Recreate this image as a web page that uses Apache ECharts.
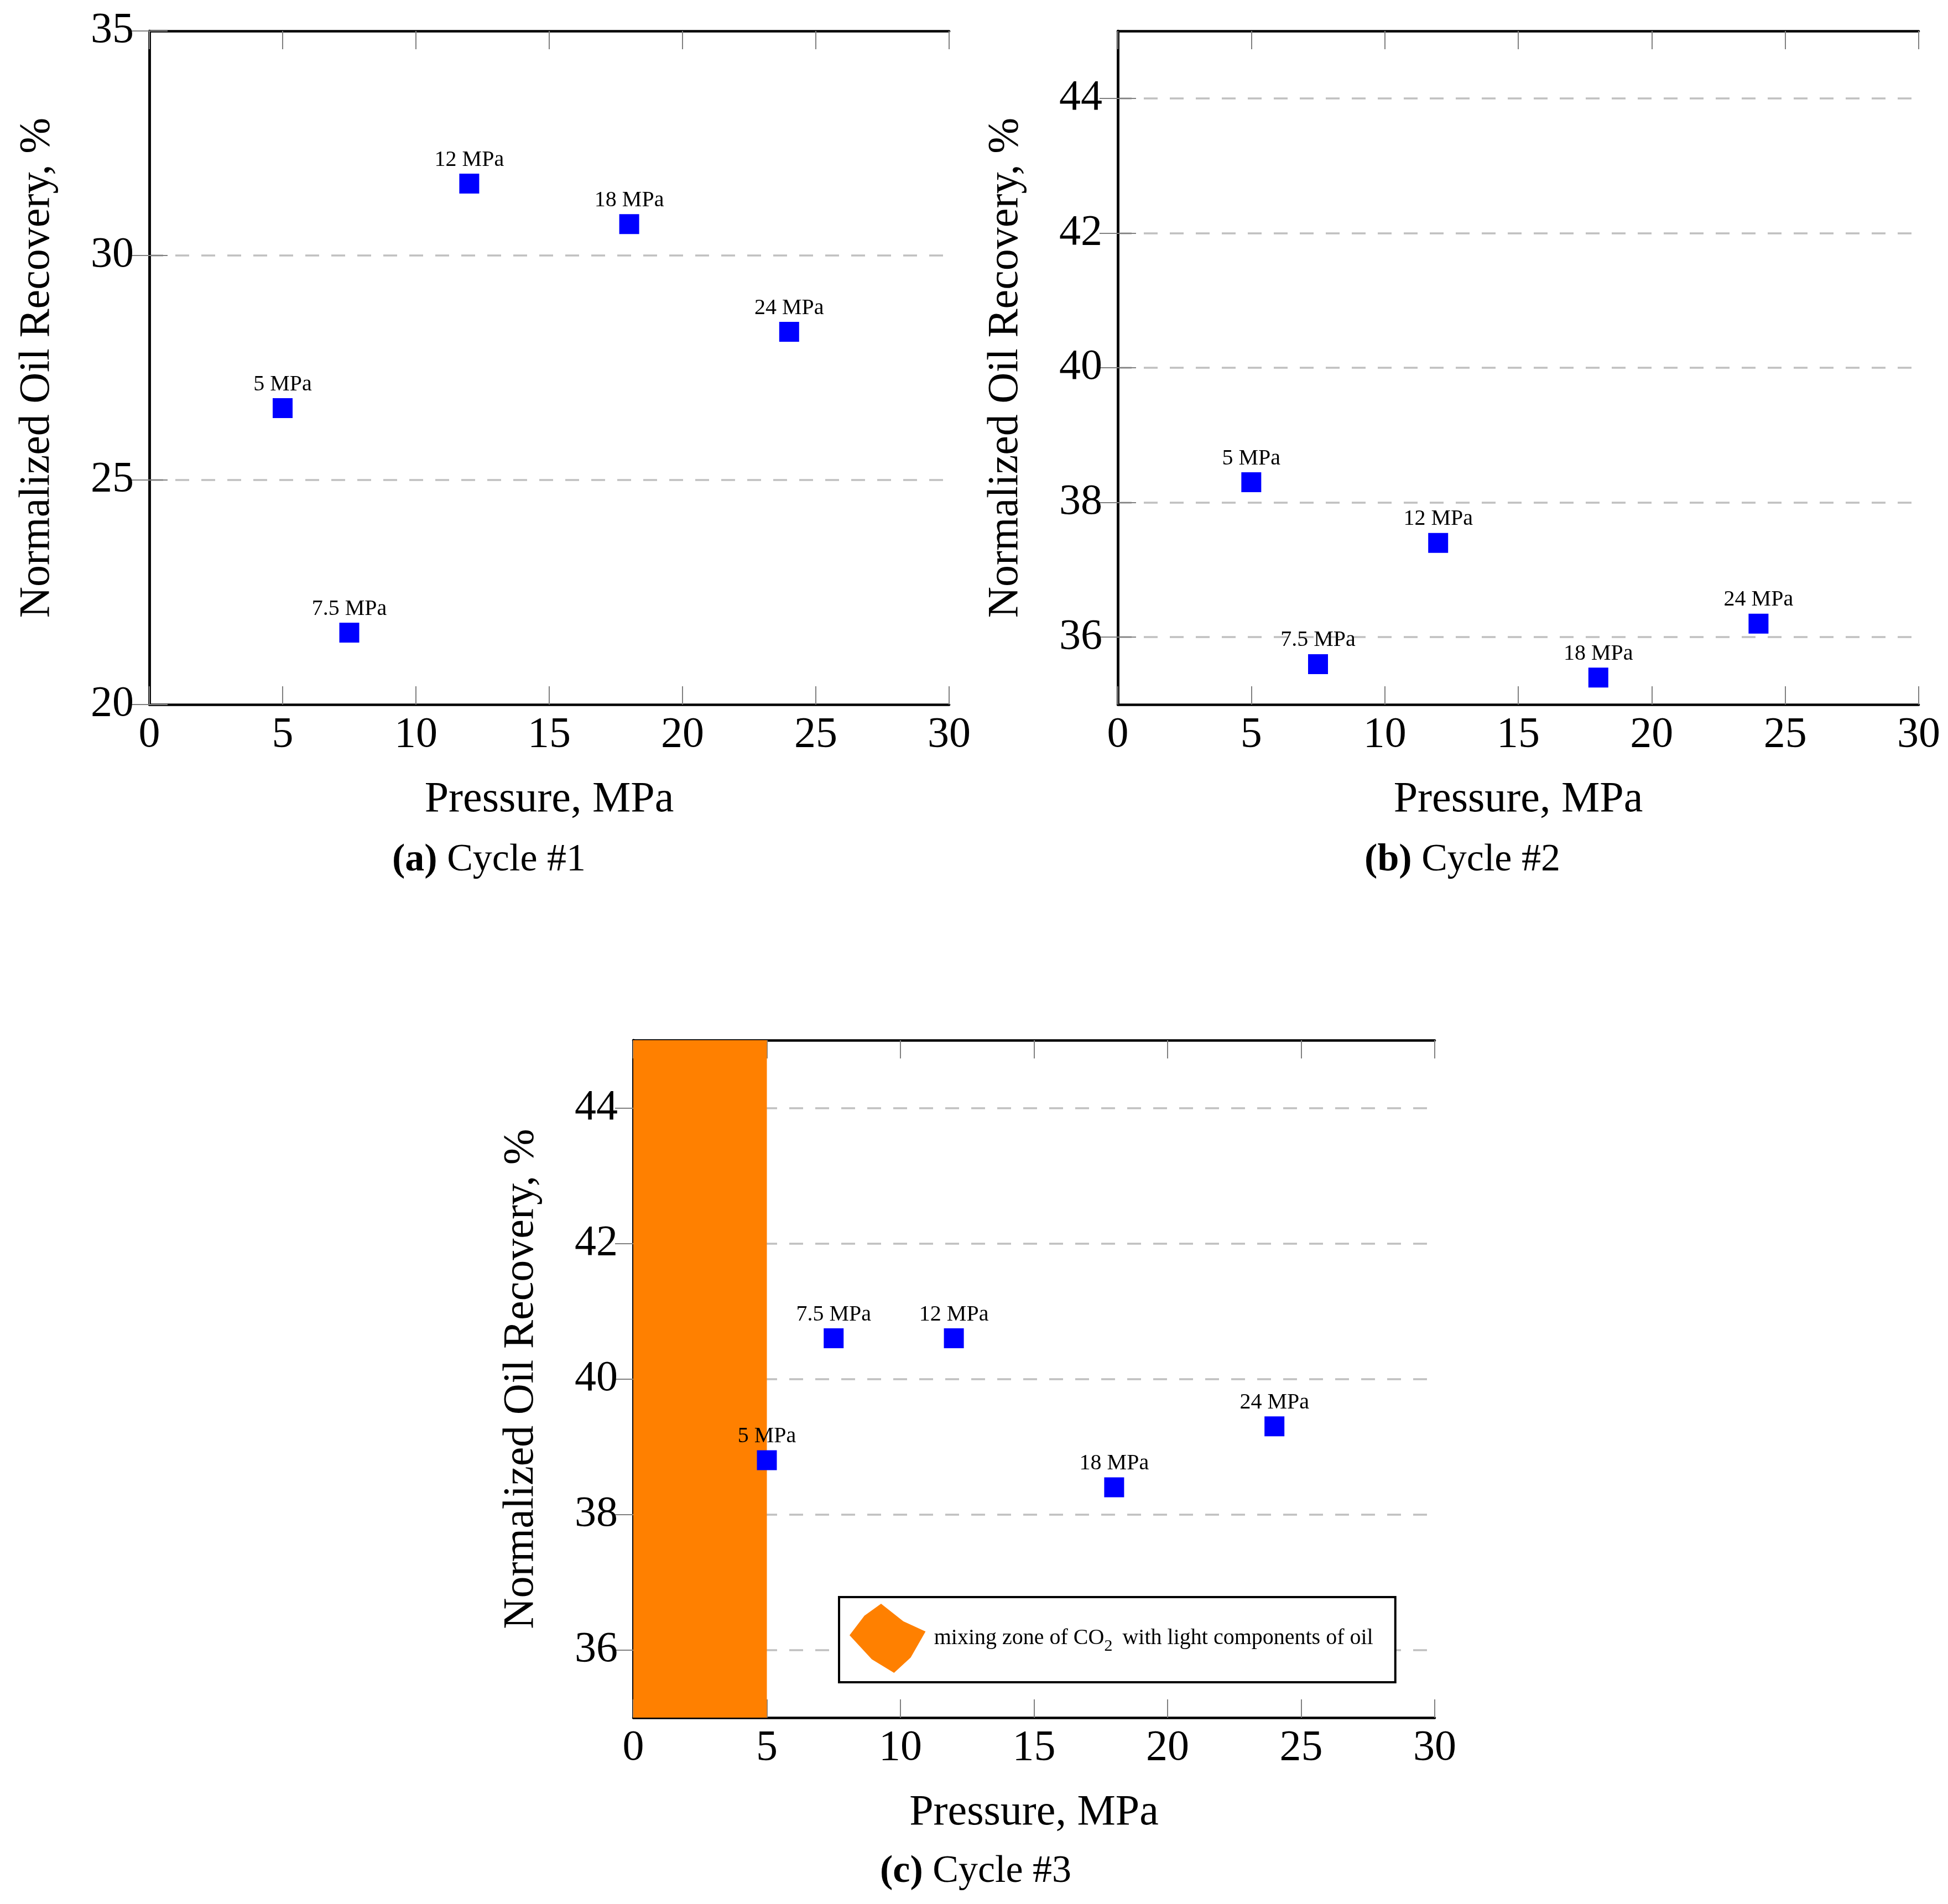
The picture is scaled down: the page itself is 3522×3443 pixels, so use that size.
<!DOCTYPE html>
<html><head><meta charset="utf-8">
<script src="https://cdn.jsdelivr.net/npm/echarts@6/dist/echarts.min.js"></script>
<style>html,body{margin:0;padding:0;background:#fff}#c{width:3522px;height:3443px}</style>
</head><body><div id="c"></div>
<script>
// ---- data ----
const pressures = [5, 7.5, 12, 18, 24];
const pointLabels = ['5 MPa', '7.5 MPa', '12 MPa', '18 MPa', '24 MPa'];
const recoveryCycle1 = [26.6, 21.6, 31.6, 30.7, 28.3];
const recoveryCycle2 = [38.3, 35.6, 37.4, 35.4, 36.2];
const recoveryCycle3 = [38.8, 40.6, 40.6, 38.4, 39.3];
const yTicksCycle23 = [36, 38, 40, 42, 44];
const mixingZone = [0, 5];
const captionTags = ['(a)', '(b)', '(c)'];
const captionTitles = ['Cycle #1', 'Cycle #2', 'Cycle #3'];
const zoneName = 'mixing zone of CO2 with light components of oil';

// ---- styling ----
const FF = "'Liberation Serif', 'DejaVu Serif', serif";
const grids = [
  {left: 270, top: 56, width: 1446, height: 1218},
  {left: 2021, top: 56, width: 1448, height: 1218},
  {left: 1145, top: 1881, width: 1449, height: 1225}
];
const yRanges = [
  {min: 20, max: 35, interval: 5, custom: null},
  {min: 35, max: 45, interval: 1, custom: yTicksCycle23},
  {min: 35, max: 45, interval: 1, custom: yTicksCycle23}
];
const captionPos = [[884, 1556], [2644, 1556], [1764, 3385]];

const tickStyle = {show: true, inside: true, length: 33, lineStyle: {color: '#808080', width: 2}};
const lineStyleAxis = {show: true, lineStyle: {color: '#000', width: 4.5}};

const xAxes = [], yAxes = [];
grids.forEach((g, i) => {
  const xBase = {gridIndex: i, type: 'value', min: 0, max: 30, interval: 5, axisLine: lineStyleAxis, axisTick: tickStyle, splitLine: {show: false}};
  xAxes.push(Object.assign({}, xBase, {
    position: 'bottom',
    name: 'Pressure, MPa', nameLocation: 'middle', nameGap: 134,
    nameTextStyle: {fontFamily: FF, fontSize: 78, color: '#000'},
    axisLabel: {show: true, margin: 17, fontFamily: FF, fontSize: 78, color: '#000'}
  }));
  xAxes.push(Object.assign({}, xBase, {position: 'top', axisLabel: {show: false}}));
  const r = yRanges[i];
  const tick = Object.assign({}, tickStyle);
  const lab = {show: true, margin: 28, fontFamily: FF, fontSize: 78, color: '#000'};
  const split = {show: true, lineStyle: {color: '#c0c0c0', width: 3.5, type: [25, 22]}};
  if (r.custom) { tick.customValues = r.custom; lab.customValues = r.custom; }
  else { split.showMinLine = false; split.showMaxLine = false; }
  const yBase = {gridIndex: i, type: 'value', min: r.min, max: r.max, interval: r.interval, axisLine: lineStyleAxis, axisTick: tick};
  yAxes.push(Object.assign({}, yBase, {
    position: 'left',
    name: 'Normalized Oil Recovery, %', nameLocation: 'middle', nameGap: 163, nameRotate: 90,
    nameTextStyle: {fontFamily: FF, fontSize: 78, color: '#000'},
    axisLabel: lab,
    splitLine: split
  }));
  yAxes.push(Object.assign({}, yBase, {position: 'right', axisLabel: {show: false}, splitLine: {show: false}}));
});

function scatterSeries(values, gi) {
  return {
    type: 'scatter', xAxisIndex: gi * 2, yAxisIndex: gi * 2, z: 3,
    symbol: 'rect', symbolSize: 36,
    itemStyle: {color: '#0000ff', opacity: 1},
    emphasis: {disabled: true},
    label: {show: true, position: 'top', distance: 5, fontFamily: FF, fontSize: 40, color: '#000',
      formatter: p => pointLabels[p.dataIndex]},
    data: pressures.map((p, k) => [p, values[k]])
  };
}

const iconPath = 'path://M280,55 L400,150 L520,205 L440,345 L350,428 L230,355 L110,225 L190,120 Z';

const option = {
  animation: false,
  backgroundColor: '#fff',
  grid: grids.map(g => Object.assign({containLabel: false, outerBoundsMode: 'none'}, g)),
  xAxis: xAxes,
  yAxis: yAxes,
  legend: {
    data: [{name: zoneName, icon: iconPath, itemStyle: {color: '#ff8000', opacity: 1}}],
    left: 1517, top: 2888, orient: 'horizontal',
    itemWidth: 138, itemHeight: 125,
    padding: [12, 40, 17, 19],
    borderColor: '#000', borderWidth: 4, borderRadius: 0, backgroundColor: '#fff',
    selectedMode: false,
    formatter: () => '{g|}{t|mixing zone of CO}{s|2}{t| with light components of oil}',
    textStyle: {fontFamily: FF, fontSize: 40, color: '#000',
      rich: {
        g: {width: 10},
        t: {fontFamily: FF, fontSize: 40, lineHeight: 60, color: '#000'},
        s: {fontFamily: FF, fontSize: 30, lineHeight: 60, verticalAlign: 'bottom', color: '#000', padding: [0, 8, 0, 0]}
      }}
  },
  series: [
    scatterSeries(recoveryCycle1, 0),
    scatterSeries(recoveryCycle2, 1),
    scatterSeries(recoveryCycle3, 2),
    {
      name: zoneName, type: 'scatter', xAxisIndex: 4, yAxisIndex: 4,
      itemStyle: {color: '#ff8000', opacity: 1}, data: [],
      markArea: {silent: true, itemStyle: {color: '#ff8000', opacity: 1, borderWidth: 0},
        data: [[{xAxis: mixingZone[0]}, {xAxis: mixingZone[1]}]]}
    }
  ],
  graphic: captionTags.map((tag, i) => ({
    type: 'text', x: captionPos[i][0], y: captionPos[i][1], z: 10,
    style: {
      text: '{b|' + tag + '} {n|' + captionTitles[i] + '}',
      align: 'center', verticalAlign: 'middle',
      fontFamily: FF, fontSize: 70, fill: '#000',
      rich: {
        b: {fontFamily: FF, fontSize: 70, fontWeight: 'bold', fill: '#000'},
        n: {fontFamily: FF, fontSize: 70, fill: '#000'}
      }
    }
  }))
};

const chart = echarts.init(document.getElementById('c'), null, {renderer: 'canvas', devicePixelRatio: 1});
chart.setOption(option);
</script>
</body></html>
